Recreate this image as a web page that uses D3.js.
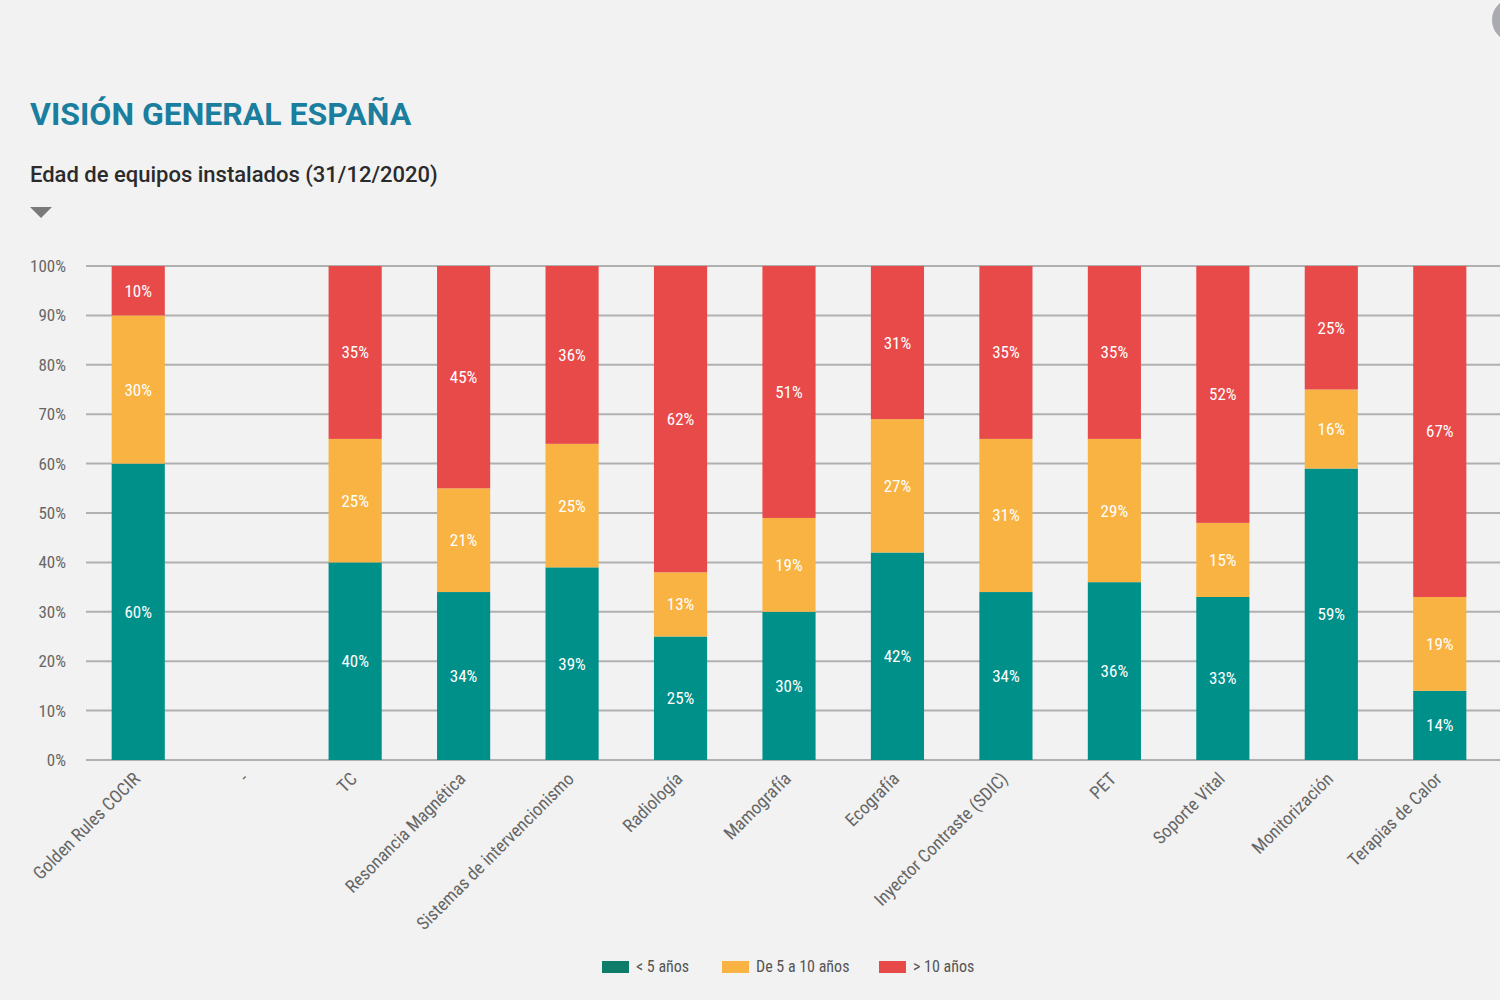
<!DOCTYPE html>
<html><head><meta charset="utf-8">
<script src="https://cdn.jsdelivr.net/npm/d3@7"></script>
<style>
html,body{margin:0;padding:0;background:#f2f2f2;}
svg{display:block;}
.cond{font-family:"Roboto Condensed","Liberation Sans Narrow","DejaVu Sans Condensed","Arial Narrow",sans-serif;}
</style></head>
<body>
<svg id="chart" width="1500" height="1000"></svg>
<script>
const categories = ["Golden Rules COCIR","-","TC","Resonancia Magnética","Sistemas de intervencionismo","Radiología","Mamografía","Ecografía","Inyector Contraste (SDIC)","PET","Soporte Vital","Monitorización","Terapias de Calor"];
const seriesNames = ["< 5 años","De 5 a 10 años","> 10 años"];
const menos5 =   [60,null,40,34,39,25,30,42,34,36,33,59,14];
const de5a10 =   [30,null,25,21,25,13,19,27,31,29,15,16,19];
const mas10 =    [10,null,35,45,36,62,51,31,35,35,52,25,67];
const yTicks = [0,10,20,30,40,50,60,70,80,90,100];
const colors = ["#00908a","#f8b342","#e84a4a"];
const legendColors = ["#0d7d69","#f8b342","#e84a4a"];

const svg = d3.select("#chart");
svg.append("rect").attr("width",1500).attr("height",1000).attr("fill","#f2f2f2");
svg.append("circle").attr("cx",1514).attr("cy",20).attr("r",22).attr("fill","#a9abb0");

svg.append("text").attr("x",30).attr("y",125).text("VISIÓN GENERAL ESPAÑA")
  .attr("font-family","Roboto, sans-serif").attr("font-weight",700).attr("font-size",32).attr("fill","#1a7e9f");
svg.append("text").attr("x",30).attr("y",182).text("Edad de equipos instalados (31/12/2020)")
  .attr("font-family","Roboto, sans-serif").attr("font-weight",500).attr("font-size",22).attr("fill","#2b2b2b");
svg.append("path").attr("d","M30,207 L52,207 L41,218 Z").attr("fill","#7a7a7a");

const x = d3.scaleBand().domain(categories).range([84,1494]).paddingInner(0.51).paddingOuter(0.255);
const y = d3.scaleLinear().domain([0,100]).range([760,266]);

// grid
const yAxis = d3.axisLeft(y).tickValues(yTicks).tickFormat(d=>d+"%").tickSize(0).tickPadding(20);
const ga = svg.append("g").attr("transform","translate(86,0)").call(yAxis);
ga.select(".domain").remove();
ga.selectAll("text").attr("class","cond").attr("font-size",17).attr("fill","#666").attr("dx",0);
svg.append("g").selectAll("line").data(yTicks).join("line")
  .attr("x1",86).attr("x2",1500).attr("y1",d=>y(d)).attr("y2",d=>y(d))
  .attr("stroke","#b0b0b0").attr("stroke-width",2);

// stacked data
const rows = categories.map((c,i)=>({cat:c, s0:menos5[i], s1:de5a10[i], s2:mas10[i]})).filter(r=>r.s0!==null);
const stack = d3.stack().keys(["s0","s1","s2"]);
const stacked = stack(rows);

const gBars = svg.append("g");
stacked.forEach((layer,li)=>{
  const g = gBars.append("g").attr("fill",colors[li]);
  g.selectAll("rect").data(layer).join("rect")
    .attr("x",d=>x(d.data.cat)).attr("width",x.bandwidth())
    .attr("y",d=>y(d[1])).attr("height",d=>y(d[0])-y(d[1]));
  gBars.append("g").selectAll("text").data(layer).join("text")
    .attr("class","cond")
    .attr("x",d=>x(d.data.cat)+x.bandwidth()/2)
    .attr("y",d=>(y(d[0])+y(d[1]))/2+6)
    .attr("text-anchor","middle").attr("font-size",17).attr("fill","#fff")
    .text(d=>(d[1]-d[0])+"%");
});

// x labels
const xAxis = d3.axisBottom(x).tickSize(0).tickPadding(0);
const gx = svg.append("g").attr("transform","translate(0,760)").call(xAxis);
gx.select(".domain").remove();
gx.selectAll("text").attr("class","cond").attr("font-size",18).attr("fill","#666")
  .attr("text-anchor","end").attr("dy",0)
  .attr("transform","translate(3,20) rotate(-45)");

// legend
const legX = [602,722,879];
const lg = svg.append("g");
seriesNames.forEach((n,i)=>{
  lg.append("rect").attr("x",legX[i]).attr("y",961).attr("width",27).attr("height",12).attr("fill",legendColors[i]);
  lg.append("text").attr("class","cond").attr("x",legX[i]+34).attr("y",972).attr("font-size",16).attr("fill","#555").text(n);
});
</script>
</body></html>
